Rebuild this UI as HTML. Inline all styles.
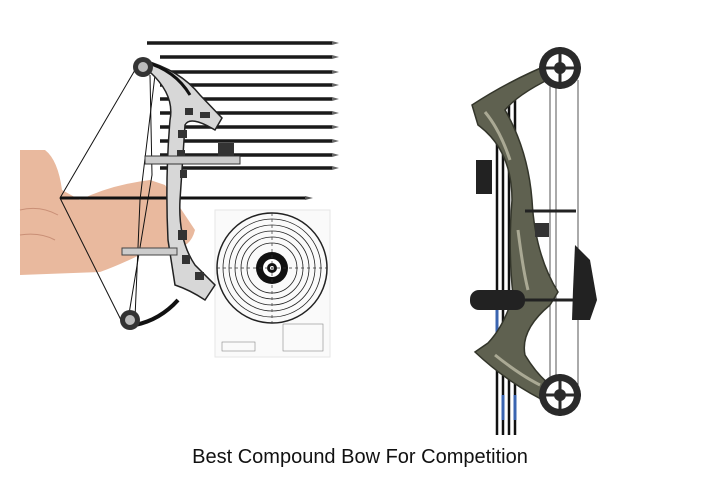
<!DOCTYPE html>
<html><head><style>
body{margin:0;background:#fff;width:720px;height:480px;overflow:hidden}
.cap{position:absolute;left:0;top:446px;width:720px;text-align:center;font-family:"Liberation Sans",sans-serif;font-size:20px;color:#111}
</style></head><body>
<svg width="720" height="480" style="position:absolute;left:0;top:0">
<g stroke="#1a1a1a" stroke-width="3.5">
<line x1="147" y1="43" x2="332" y2="43"/>
<line x1="160" y1="57" x2="332" y2="57"/>
<line x1="165" y1="72" x2="332" y2="72"/>
<line x1="160" y1="85" x2="332" y2="85"/>
<line x1="160" y1="99" x2="332" y2="99"/>
<line x1="160" y1="113" x2="332" y2="113"/>
<line x1="160" y1="127" x2="332" y2="127"/>
<line x1="160" y1="141" x2="332" y2="141"/>
<line x1="160" y1="155" x2="332" y2="155"/>
<line x1="160" y1="168" x2="332" y2="168"/>
</g>
<g fill="#666">
<polygon points="332,41 339,43 332,45"/><polygon points="332,55 339,57 332,59"/><polygon points="332,70 339,72 332,74"/><polygon points="332,83 339,85 332,87"/><polygon points="332,97 339,99 332,101"/><polygon points="332,111 339,113 332,115"/><polygon points="332,125 339,127 332,129"/><polygon points="332,139 339,141 332,143"/><polygon points="332,153 339,155 332,157"/><polygon points="332,166 339,168 332,170"/>
</g>
<rect x="215" y="210" width="115" height="147" fill="#fafafa" stroke="#e6e6e6"/>
<g fill="none" stroke="#222" stroke-width="0.8">
<circle cx="272" cy="268" r="55" stroke-width="1.5"/><circle cx="272" cy="268" r="49"/><circle cx="272" cy="268" r="43"/><circle cx="272" cy="268" r="37"/><circle cx="272" cy="268" r="31"/><circle cx="272" cy="268" r="25"/>
</g>
<circle cx="272" cy="268" r="16" fill="#111"/><circle cx="272" cy="268" r="9" fill="#fff"/><circle cx="272" cy="268" r="5" fill="#111"/><circle cx="272" cy="268" r="2" fill="#fff"/>
<line x1="217" y1="268" x2="327" y2="268" stroke="#333" stroke-dasharray="3,3" stroke-width="0.7"/>
<line x1="272" y1="213" x2="272" y2="323" stroke="#333" stroke-dasharray="3,3" stroke-width="0.7"/>
<rect x="283" y="324" width="40" height="27" fill="none" stroke="#888" stroke-width="0.6"/>
<rect x="222" y="342" width="33" height="9" fill="none" stroke="#888" stroke-width="0.6"/>
<path d="M20,150 L45,150 Q58,160 62,190 L80,200 Q110,185 150,180 L165,185 L195,230 Q190,250 170,248 L150,250 Q120,265 100,272 L20,275 Z" fill="#e9b99e"/>
<path d="M20,210 Q40,205 58,215 M20,235 Q40,232 55,240" stroke="#c98f76" fill="none"/>
<g stroke="#111" stroke-width="1" fill="none">
<path d="M135,70 L60,198 L122,322"/>
<path d="M150,75 L152,175 L128,320"/><path d="M155,75 L140,200 L135,318"/>
</g>
<line x1="60" y1="198" x2="305" y2="198" stroke="#111" stroke-width="3"/>
<polygon points="305,196 313,198 305,200" fill="#555"/>
<path d="M143,60 Q180,70 200,95 L222,118 L215,130 Q190,115 185,125 L180,200 Q178,240 195,265 L215,285 L205,300 Q190,290 175,285 L168,240 Q165,180 170,120 Q175,95 150,72 Z" fill="#d7d7d7" stroke="#222" stroke-width="1.5"/>
<path d="M178,300 Q160,320 135,325" stroke="#111" stroke-width="4" fill="none"/>
<path d="M145,62 Q175,70 190,95" stroke="#111" stroke-width="3" fill="none"/>
<g fill="#333"><rect x="185" y="108" width="8" height="7"/><rect x="178" y="130" width="9" height="8"/><rect x="177" y="150" width="8" height="9"/><rect x="180" y="170" width="7" height="8"/><rect x="178" y="230" width="9" height="10"/><rect x="182" y="255" width="8" height="9"/><rect x="195" y="272" width="9" height="8"/><rect x="200" y="112" width="10" height="6"/></g>
<rect x="145" y="156" width="95" height="8" fill="#ccc" stroke="#333"/>
<rect x="218" y="143" width="16" height="13" fill="#333"/>
<rect x="122" y="248" width="55" height="7" fill="#ccc" stroke="#444"/>
<circle cx="143" cy="67" r="10" fill="#333"/><circle cx="143" cy="67" r="5" fill="#bbb"/>
<circle cx="130" cy="320" r="10" fill="#333"/><circle cx="130" cy="320" r="5" fill="#bbb"/>
<g stroke="#555" stroke-width="1"><line x1="550" y1="75" x2="550" y2="395"/><line x1="578" y1="80" x2="578" y2="390"/><line x1="556" y1="80" x2="556" y2="390"/></g>
<g stroke="#111" stroke-width="2.5"><line x1="497" y1="100" x2="497" y2="435"/><line x1="503" y1="100" x2="503" y2="435"/><line x1="509" y1="100" x2="509" y2="435"/><line x1="515" y1="100" x2="515" y2="435"/></g>
<g stroke="#3a64b0" stroke-width="3"><line x1="497" y1="310" x2="497" y2="360"/><line x1="509" y1="310" x2="509" y2="360"/><line x1="503" y1="395" x2="503" y2="420"/><line x1="515" y1="395" x2="515" y2="420"/></g>
<path d="M472,105 Q510,80 555,62 L560,74 Q520,92 505,110 Q528,150 532,200 Q535,255 558,292 L550,305 Q520,330 525,355 Q540,380 560,392 L553,405 Q510,385 475,352 L488,343 Q505,325 513,295 Q508,250 512,200 Q512,150 478,125 Z" fill="#5f6150" stroke="#33352a" stroke-width="1.5"/>
<path d="M485,112 Q500,130 510,160 M518,230 Q523,270 528,290 M495,355 Q520,375 540,385" stroke="#aaa994" stroke-width="3" fill="none"/>
<circle cx="560" cy="68" r="21" fill="#2a2a2a"/><circle cx="560" cy="68" r="14" fill="#fff"/><circle cx="560" cy="68" r="6" fill="#2a2a2a"/>
<path d="M560,47 L560,89 M539,68 L581,68" stroke="#2a2a2a" stroke-width="3"/>
<circle cx="560" cy="395" r="21" fill="#2a2a2a"/><circle cx="560" cy="395" r="14" fill="#fff"/><circle cx="560" cy="395" r="6" fill="#2a2a2a"/>
<path d="M560,374 L560,416 M539,395 L581,395" stroke="#2a2a2a" stroke-width="3"/>
<rect x="470" y="290" width="55" height="20" rx="9" fill="#222"/>
<line x1="520" y1="300" x2="580" y2="300" stroke="#222" stroke-width="3"/>
<rect x="476" y="160" width="16" height="34" fill="#222"/>
<line x1="525" y1="211" x2="576" y2="211" stroke="#222" stroke-width="3"/>
<path d="M575,245 L590,260 L597,300 L590,320 L572,320 L573,290 Z" fill="#222"/>
<rect x="535" y="223" width="14" height="14" fill="#333"/>
</svg>
<div class="cap">Best Compound Bow For Competition</div>
</body></html>
